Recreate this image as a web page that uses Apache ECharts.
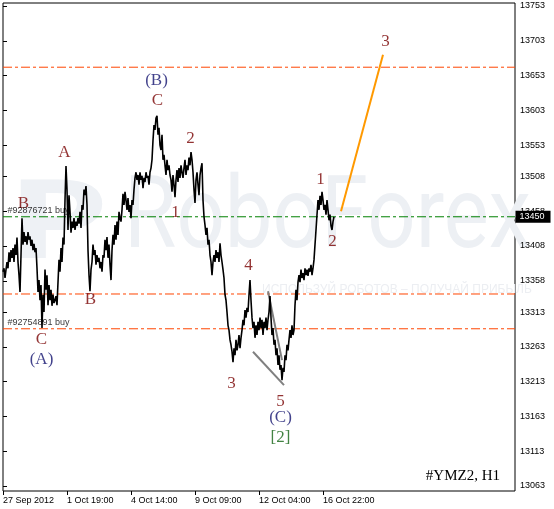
<!DOCTYPE html>
<html><head><meta charset="utf-8">
<script src="https://cdn.jsdelivr.net/npm/echarts@6/dist/echarts.min.js"></script>
<style>html,body{margin:0;padding:0;background:#fff}#c{width:554px;height:509px}</style>
</head><body><div id="c"></div>
<script>
// ---- data (bar index = hourly bars since 27 Sep 2012) ----
const xTickBars = [0, 64, 128, 192, 256, 320];
const xTickLabels = ['27 Sep 2012', '1 Oct 19:00', '4 Oct 14:00', '9 Oct 09:00', '12 Oct 04:00', '16 Oct 22:00'];
const yTickLabels = [13753, 13703, 13653, 13603, 13553, 13508, 13458, 13408, 13358, 13313, 13263, 13213, 13163, 13113, 13063];
const prices = [
13371,13376,13362,13374,13385,13376,13399,13385,13402,13391,
13405,13385,13410,13395,13420,13385,13366,13342,13395,13448,
13410,13428,13414,13422,13410,13428,13417,13422,13408,13417,
13402,13411,13399,13405,13376,13342,13359,13330,13352,13290,
13338,13313,13374,13345,13366,13323,13352,13330,13345,13322,
13338,13326,13330,13336,13323,13356,13388,13371,13405,13385,
13420,13410,13474,13523,13489,13431,13481,13457,13427,13443,
13434,13448,13431,13443,13437,13448,13440,13457,13434,13467,
13460,13489,13481,13494,13467,13402,13366,13343,13374,13385,
13410,13395,13402,13381,13395,13385,13391,13376,13385,13371,
13395,13391,13417,13402,13421,13391,13410,13381,13359,13402,
13424,13410,13438,13417,13443,13424,13457,13448,13443,13460,
13483,13467,13486,13474,13460,13477,13457,13467,13448,13474,
13467,13489,13506,13514,13503,13510,13496,13514,13503,13509,
13491,13506,13500,13514,13506,13509,13496,13514,13520,13532,
13560,13582,13575,13592,13595,13568,13578,13553,13546,13568,
13532,13539,13524,13510,13532,13517,13524,13510,13503,13486,
13510,13496,13478,13503,13517,13500,13520,13506,13524,13514,
13506,13520,13532,13510,13524,13517,13535,13524,13543,13532,
13514,13489,13470,13503,13514,13496,13481,13510,13520,13527,
13474,13450,13438,13424,13434,13410,13417,13395,13385,13366,
13385,13395,13385,13402,13391,13399,13385,13412,13395,13385,
13374,13362,13338,13330,13313,13294,13287,13273,13266,13256,
13241,13261,13251,13273,13258,13266,13280,13261,13276,13287,
13302,13294,13316,13305,13319,13313,13338,13359,13330,13305,
13290,13299,13276,13294,13280,13299,13287,13305,13290,13302,
13280,13299,13290,13305,13287,13302,13313,13336,13305,13280,
13290,13266,13273,13251,13261,13237,13251,13230,13237,13215,
13233,13227,13251,13244,13266,13258,13273,13287,13276,13294,
13280,13287,13323,13345,13330,13356,13366,13356,13374,13362,
13369,13359,13376,13366,13374,13365,13376,13371,13381,13366,
13376,13388,13410,13431,13453,13474,13460,13480,13467,13486,
13474,13460,13467,13453,13474,13460,13445,13453,13437,13431,
13443,13450
];
const projectionBars = [338, 380];
const projectionVals = [13458, 13683];
const wedgeLowerBars = [250, 281];
const wedgeLowerVals = [13256, 13208];
const wedgeUpperBars = [265, 279];
const wedgeUpperVals = [13343, 13244];
const redLevels = [13665, 13339, 13289];
const greenLevel = 13450;
const currentPrice = 13450;
const waveBars   = [154, 155, 62, 188, 21, 173, 88, 39, 39, 246, 229, 278, 278, 278, 318, 330, 383];
const waveVals   = [13645, 13616, 13542, 13562, 13468, 13455, 13330, 13273, 13244, 13379, 13210, 13184, 13161, 13132, 13503, 13414, 13701];
const waveTexts  = ['(B)', 'C', 'A', '2', 'B', '1', 'B', 'C', '(A)', '4', '3', '5', '(C)', '[2]', '1', '2', '3'];
const waveDegree = ['n', 'r', 'r', 'r', 'r', 'r', 'r', 'r', 'n', 'r', 'r', 'r', 'n', 'g', 'r', 'r', 'r'];
const noteBars = [5, 5];
const noteVals = [13458, 13297];
const noteTexts = ['#92876721 buy', '#92754891 buy'];

const X_MIN = 0, X_MAX = 512;
const chart = echarts.init(document.getElementById('c'), null, {renderer: 'canvas'});
const degreeColor = {r: '#780000', n: '#12126e', g: '#146414'};
const axisFont = {fontFamily: 'Liberation Sans', fontSize: 9, color: '#000'};
const clear = 'rgba(0,0,0,0)';
const dash = [9, 3, 3, 3];

function levelSeries(v, color) {
  return {type: 'line', z: 2, symbol: 'none', silent: true, data: [[X_MIN, v], [X_MAX, v]],
    lineStyle: {color: color, width: 1, type: dash}};
}

chart.setOption({
  animation: false,
  backgroundColor: '#fff',
  grid: {left: 3, right: 39, top: 3, bottom: 18, show: true, borderColor: '#000', borderWidth: 1, backgroundColor: 'transparent'},
  graphic: [
    {type: 'text', x: 6, y: 172, scaleX: 1.5, z: 0, silent: true,
     style: {text: 'P', font: 'bold 110px "Open Sans"', fill: '#eef1f5'}},
    {type: 'text', x: 124, y: 172, scaleY: 1.18, z: 0, silent: true,
     style: {text: 'RoboForex', font: '85px Roboto', fill: '#edf0f4'}},
    {type: 'text', x: 262, y: 284, z: 0, silent: true,
     style: {text: 'ИСПОЛЬЗУЙ РОБОТОВ – ПОЛУЧАЙ ПРИБЫЛЬ', font: '12px "Liberation Sans"', fill: '#eceef2'}},
    {type: 'text', right: 54, top: 469, z: 10, silent: true,
     style: {text: '#YMZ2, H1', font: '15px "Liberation Serif"', fill: '#000'}}
  ],
  xAxis: {
    type: 'value', min: X_MIN, max: X_MAX,
    axisLine: {show: false}, splitLine: {show: false},
    axisTick: {show: true, length: 4, lineStyle: {color: '#000'}, customValues: xTickBars},
    axisLabel: Object.assign({customValues: xTickBars, align: 'left', margin: 5,
      formatter: v => { const i = xTickBars.indexOf(v); return i >= 0 ? xTickLabels[i] : ''; }}, axisFont)
  },
  yAxis: {
    type: 'value', position: 'right', min: 13055.8, max: 13757.3, scale: true,
    axisLine: {show: false}, splitLine: {show: false},
    axisTick: {show: true, length: 4, lineStyle: {color: '#000'}, customValues: yTickLabels},
    axisLabel: Object.assign({customValues: yTickLabels, margin: 5, formatter: v => String(v)}, axisFont)
  },
  series: redLevels.map(v => levelSeries(v, '#ff4500')).concat([
    levelSeries(greenLevel, '#008000'),
    {
      type: 'line', z: 3, symbol: 'none',
      data: prices.map((p, i) => [i, p]),
      lineStyle: {color: '#000', width: 1.6},
      markPoint: {
        silent: true, symbol: 'rect', symbolSize: [1, 1], itemStyle: {color: clear},
        data: [{coord: [X_MAX, currentPrice], value: currentPrice}],
        label: {show: true, position: 'right', distance: 0, formatter: String(currentPrice),
          backgroundColor: '#000', color: '#fff', fontFamily: 'Liberation Sans', fontSize: 9,
          padding: [2, 6, 1, 4]}
      }
    },
    {type: 'line', z: 4, symbol: 'none', data: projectionBars.map((b, i) => [b, projectionVals[i]]),
     lineStyle: {color: '#ff9900', width: 2}},
    {type: 'line', z: 2, symbol: 'none', data: wedgeLowerBars.map((b, i) => [b, wedgeLowerVals[i]]),
     lineStyle: {color: '#808080', width: 2}},
    {type: 'line', z: 2, symbol: 'none', data: wedgeUpperBars.map((b, i) => [b, wedgeUpperVals[i]]),
     lineStyle: {color: '#808080', width: 2}},
    {
      type: 'scatter', z: 6, symbolSize: 1, itemStyle: {color: clear},
      data: waveBars.map((b, i) => ({value: [b, waveVals[i]], name: waveTexts[i],
        label: {color: degreeColor[waveDegree[i]]}})),
      label: {show: true, position: [0, 0], align: 'center', verticalAlign: 'middle',
        fontFamily: 'Liberation Serif', fontSize: 17, formatter: p => p.name}
    },
    {
      type: 'scatter', z: 7, symbolSize: 1, itemStyle: {color: clear},
      data: noteBars.map((b, i) => ({value: [b, noteVals[i]], name: noteTexts[i]})),
      label: {show: true, position: [0, 0], align: 'left', verticalAlign: 'middle',
        fontFamily: 'Liberation Sans', fontSize: 9, color: '#000', formatter: p => p.name}
    }
  ])
});
</script></body></html>
